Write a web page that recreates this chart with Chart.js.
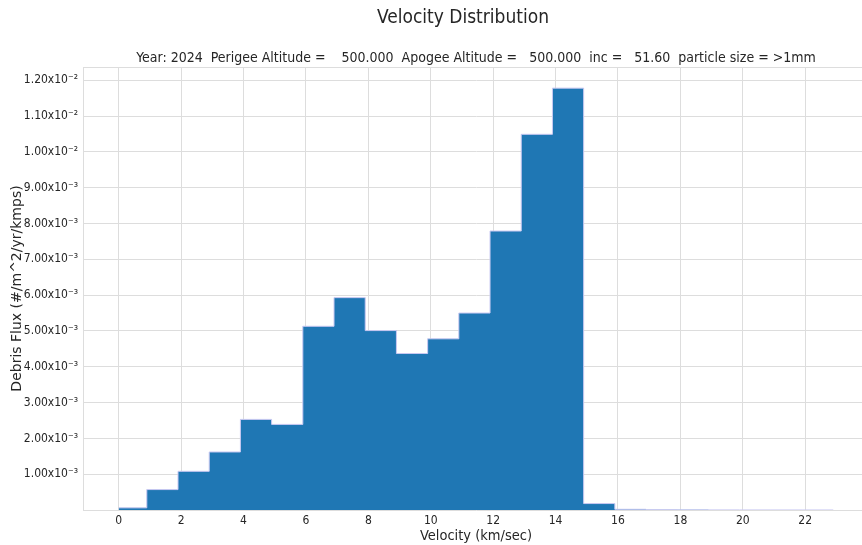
<!DOCTYPE html>
<html><head><meta charset="utf-8">
<style>html,body{margin:0;padding:0;overflow:hidden;background:#fff}canvas{display:block}</style>
<script src="https://cdn.jsdelivr.net/npm/chart.js@4"></script>
</head><body>
<canvas id="c" width="926" height="545"></canvas>
<script>
// Bin edges (km/sec) and flux per bin (#/m^2/yr/kmps)
const binEdges = [0, 0.9, 1.9, 2.9, 3.9, 4.9, 5.9, 6.9, 7.9, 8.9, 9.9, 10.9, 11.9, 12.9, 13.9, 14.9, 15.9, 16.9, 17.9, 18.9, 19.9, 20.9, 21.9, 22.9];
const fluxValues = [0.00006, 0.00057, 0.00108, 0.00162, 0.00253, 0.00239, 0.00513, 0.00593, 0.00501, 0.00437, 0.00478, 0.00550, 0.00779, 0.01049, 0.01178, 0.00018, 0.00002, 0.00001, 0.000005, 0.000003, 0.000002, 0.000001, 0.000001];
const xTickValues = [0, 2, 4, 6, 8, 10, 12, 14, 16, 18, 20, 22];
const yTickValues = [0.001, 0.002, 0.003, 0.004, 0.005, 0.006, 0.007, 0.008, 0.009, 0.010, 0.011, 0.012];
const yTickLabels = ['1.00x10⁻³', '2.00x10⁻³', '3.00x10⁻³', '4.00x10⁻³', '5.00x10⁻³', '6.00x10⁻³', '7.00x10⁻³', '8.00x10⁻³', '9.00x10⁻³', '1.00x10⁻²', '1.10x10⁻²', '1.20x10⁻²'];
const titleText = 'Velocity Distribution';
const subtitleText = 'Year: 2024  Perigee Altitude =    500.000  Apogee Altitude =   500.000  inc =   51.60  particle size = >1mm';

// each bin value is held from its left edge to the next edge
const points = binEdges.map((x, i) => ({x: x, y: fluxValues[Math.min(i, fluxValues.length - 1)]}));

const NARROW = '"Liberation Sans Narrow", "DejaVu Sans Condensed", "Liberation Sans", sans-serif';
const TXT = '#262626';
const GRID = '#dddddd';

const frame = {
  id: 'frame',
  afterDatasetsDraw(chart) {
    const {ctx, chartArea: a} = chart;
    ctx.save();
    ctx.strokeStyle = GRID;
    ctx.lineWidth = 1;
    ctx.beginPath();
    ctx.moveTo(a.left, a.top + 0.5);
    ctx.lineTo(a.right, a.top + 0.5);
    ctx.stroke();
    ctx.restore();
  }
};

new Chart(document.getElementById('c'), {
  type: 'line',
  data: {
    datasets: [{
      data: points,
      stepped: 'before',
      fill: 'origin',
      backgroundColor: '#1f77b4',
      borderColor: '#c9c9f2',
      borderWidth: 1,
      pointRadius: 0,
      tension: 0
    }]
  },
  options: {
    responsive: false,
    animation: false,
    events: [],
    layout: {padding: 0},
    plugins: {
      legend: {display: false},
      tooltip: {enabled: false},
      title: {
        display: true, text: titleText, color: TXT,
        font: {family: NARROW, size: 19, weight: 'normal', lineHeight: 1.2},
        padding: {top: 6.6, bottom: 20.2}
      },
      subtitle: {
        display: true, text: subtitleText, color: TXT, fullSize: false,
        font: {family: NARROW, size: 14, weight: 'normal', lineHeight: 1.2},
        padding: {top: 0, bottom: 0.6}
      }
    },
    scales: {
      x: {
        type: 'linear', min: -1.145, max: 24.045,
        afterBuildTicks: s => { s.ticks = xTickValues.map(v => ({value: v})); },
        afterFit: s => { s.height = 35; },
        grid: {color: GRID, drawTicks: false},
        border: {color: GRID},
        ticks: {color: TXT, padding: 4, font: {family: NARROW, size: 12}, maxRotation: 0, autoSkip: false},
        title: {display: true, text: 'Velocity (km/sec)', color: TXT,
          font: {family: NARROW, size: 14.5}, padding: {top: 0, bottom: 0}}
      },
      y: {
        type: 'linear', min: 0, max: 0.01237,
        afterBuildTicks: s => { s.ticks = yTickValues.map(v => ({value: v})); },
        afterFit: s => { s.width = 83; },
        grid: {color: GRID, drawTicks: false},
        border: {color: GRID},
        ticks: {color: TXT, padding: 5, font: {family: NARROW, size: 12},
          callback: (v, i) => yTickLabels[i]},
        title: {display: true, text: 'Debris Flux (#/m^2/yr/kmps)', color: TXT,
          font: {family: '"DejaVu Sans", sans-serif', size: 14}, padding: {top: 8.6, bottom: 0}}
      },
      rightMargin: {
        type: 'linear', position: 'right', display: true,
        afterFit: s => { s.width = 57; },
        grid: {display: false, drawTicks: false},
        border: {display: false},
        ticks: {display: false}
      }
    }
  },
  plugins: [frame]
});
</script>
</body></html>
